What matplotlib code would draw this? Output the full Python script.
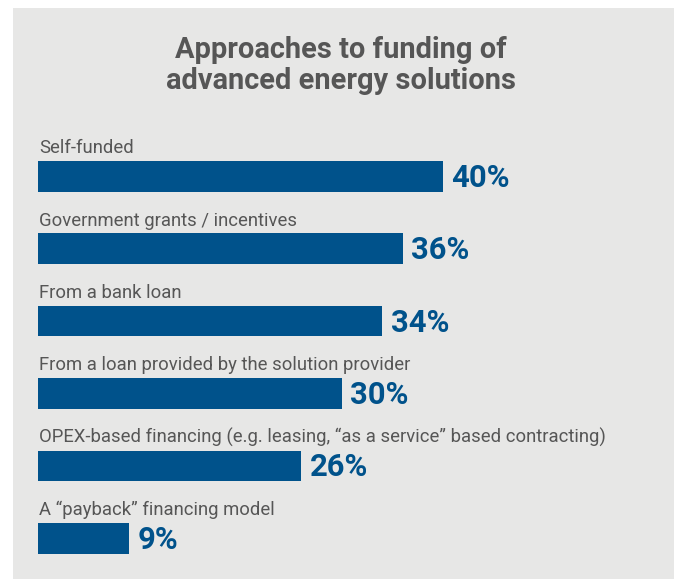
import matplotlib
matplotlib.use('Agg')
import matplotlib.pyplot as plt
from matplotlib.patches import Rectangle

# survey answers, top to bottom
categories = [
    'Self-funded',
    'Government grants / incentives',
    'From a bank loan',
    'From a loan provided by the solution provider',
    'OPEX-based financing (e.g. leasing, \u201cas a service\u201d based contracting)',
    'A \u201cpayback\u201d financing model',
]
shares = [40, 36, 34, 30, 26, 9]
title_lines = ['Approaches to funding of', 'advanced energy solutions']

BLUE = '#00528b'
GREY_TXT = '#565656'
PANEL = '#e7e7e6'
FONT = ['Roboto', 'DejaVu Sans']

W, H = 674, 579
fig = plt.figure(figsize=(W / 100, H / 100), dpi=100, facecolor='white')

# grey panel behind everything
fig.patches.append(Rectangle((13 / W, 0), 1 - 13 / W, (H - 8) / H,
                             transform=fig.transFigure, facecolor=PANEL,
                             edgecolor='none', zorder=-5))

for line, y_px in zip(title_lines, [57.7, 89.3]):
    fig.text(340.5 / W, 1 - y_px / H, line, ha='center', va='baseline',
             fontsize=20.9, fontweight='bold', color=GREY_TXT,
             family=FONT, zorder=3)

# axes: 10.13 px per percent, 72.4 px per row
ax = fig.add_axes([38 / W, (H - 574.5) / H, 607.8 / W, 434.4 / H])
ax.set_zorder(2)
ax.set_xlim(0, 60)
ax.set_ylim(5.5, -0.5)
ax.axis('off')
ax.patch.set_alpha(0)

ypos = list(range(len(shares)))
ax.barh(ypos, shares, height=0.42, color=BLUE, edgecolor='none')

for i, (cat, v) in enumerate(zip(categories, shares)):
    ax.annotate(cat, xy=(0, i), xytext=(1.0, 16.6), textcoords='offset points',
                ha='left', va='baseline', fontsize=13.35, color=GREY_TXT,
                family=FONT)
    ax.annotate(f'{v}%', xy=(v, i), xytext=(6.0, -7.5), textcoords='offset points',
                ha='left', va='baseline', fontsize=22.3, fontweight='bold',
                color=BLUE, family=FONT)

fig.savefig('out.png', dpi=100, facecolor='white')
